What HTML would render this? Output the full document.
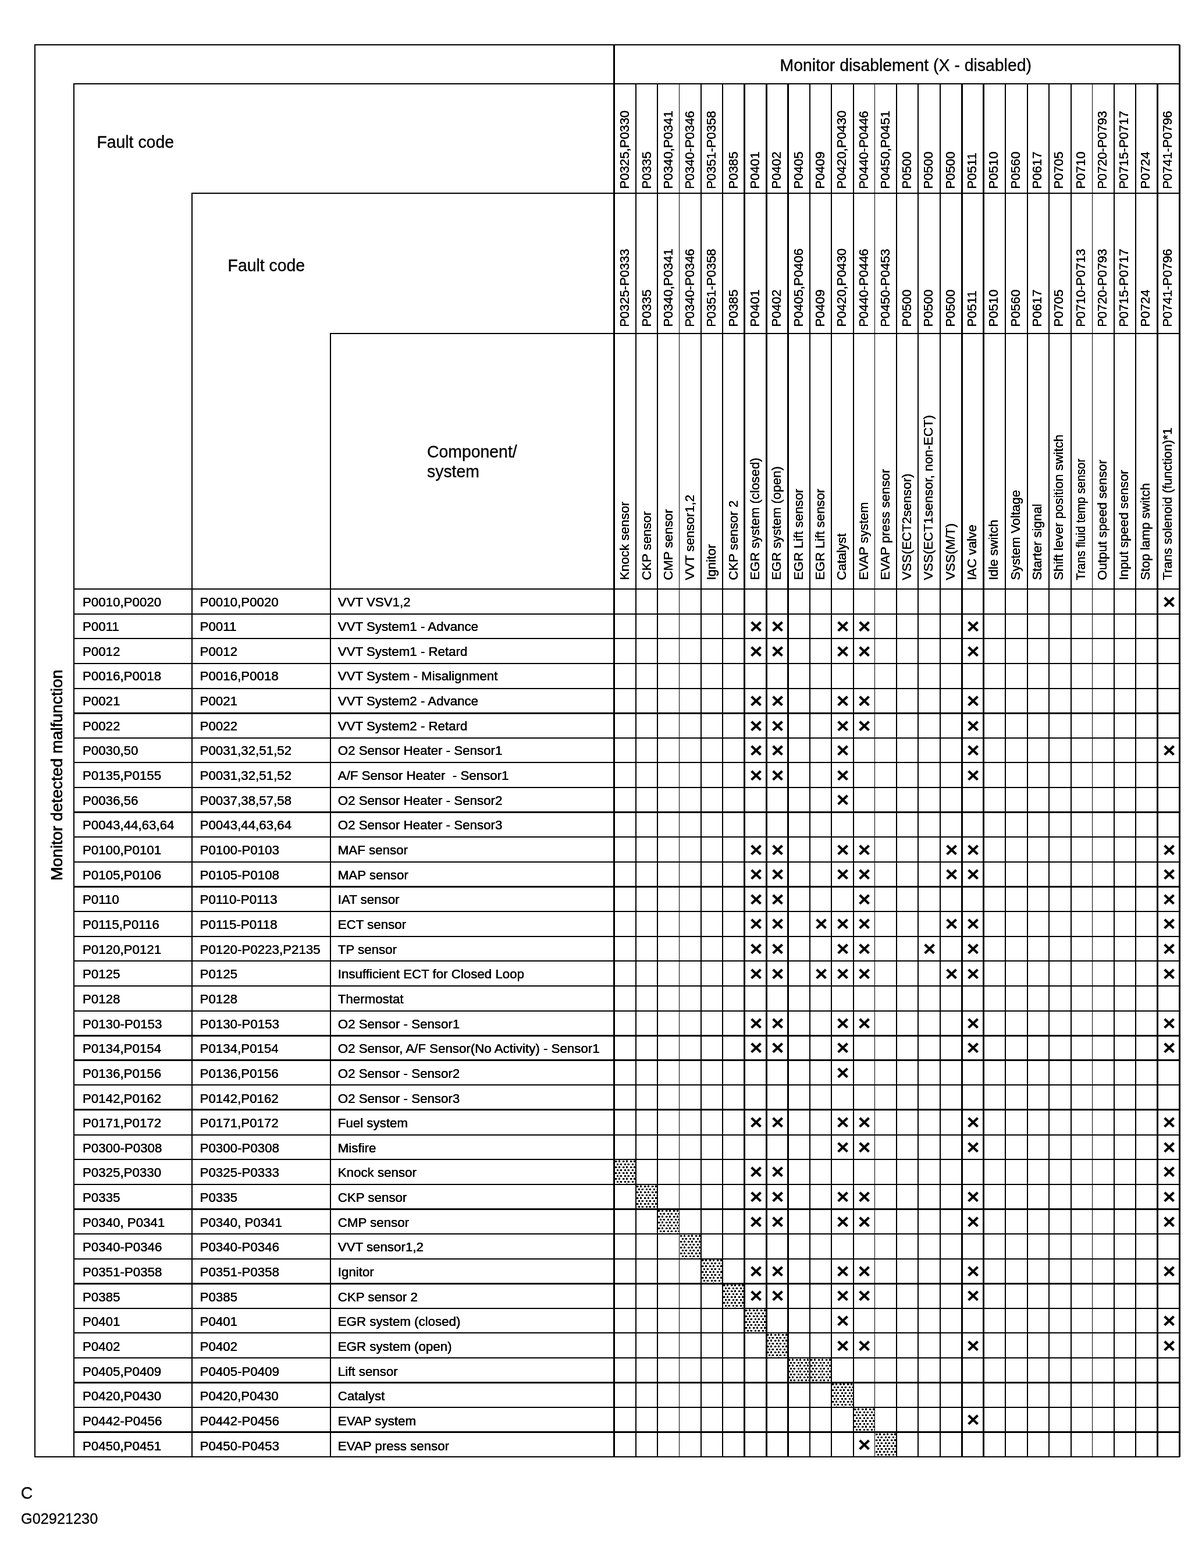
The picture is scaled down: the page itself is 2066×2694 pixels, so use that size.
<!DOCTYPE html>
<html lang="en">
<head>
<meta charset="utf-8">
<title>Monitor disablement</title>
<style>
html,body{margin:0;padding:0;background:#fff}
body{width:2066px;height:2694px;position:relative;overflow:hidden;font-family:"Liberation Sans",Arial,Helvetica,sans-serif;color:#000}
.l{position:absolute;background:#000}
.t{position:absolute;white-space:nowrap;line-height:1;transform-origin:0 84.65%;-webkit-text-stroke:0.3px #000}
.hd{font-size:28.4px;transform:scaleY(1.02);-webkit-text-stroke:0.35px #000}
.vh{font-size:28.22px;transform:rotate(-90deg);-webkit-text-stroke:0.45px #000;text-shadow:0.15px 0 0 #000,-0.15px 0 0 #000}
.cc{font-size:28.4px;transform:scaleY(1.05)}
.gg{font-size:25.3px}
.r{font-size:22.3px;-webkit-text-stroke:0;text-shadow:0.18px 0 0 #000,-0.18px 0 0 #000;transform:scaleY(1.015)}
.vc{font-size:22.3px;-webkit-text-stroke:0;transform:rotate(-90deg) scaleY(1.03);text-shadow:0 0.2px 0 #000,0 -0.2px 0 #000}
.x{text-shadow:none;font-size:36px;font-weight:bold;width:37.37px;height:42.6px;line-height:42.6px;text-align:center;transform-origin:50% 50%;transform:scale(1.03,0.96);-webkit-text-stroke:0.2px #000}
.hx{position:absolute;display:block}
</style>
</head>
<body>
<svg width="0" height="0" style="position:absolute;left:0;top:0" aria-hidden="true"><defs><pattern id="hatch" patternUnits="userSpaceOnUse" x="0" y="0" width="13" height="10"><rect width="13" height="10" fill="#fff"/><path fill="#000" d="M1 2h3v1h1v1h-1v1h-3zM8 1h1v1h1v3h-3v-3h1zM4 7h3v3h-2v1h-1zM10 7h3v3h-3v-1h-1v-1h1z"/></pattern></defs></svg>
<svg class="hx" style="left:1056px;top:1992px" width="37" height="43" viewBox="0 0 37 43" shape-rendering="crispEdges"><rect width="37" height="43" fill="url(#hatch)"/></svg>
<svg class="hx" style="left:1093px;top:2035px" width="37" height="42" viewBox="0 0 37 42" shape-rendering="crispEdges"><rect width="37" height="42" fill="url(#hatch)"/></svg>
<svg class="hx" style="left:1130px;top:2077px" width="38" height="43" viewBox="0 0 38 43" shape-rendering="crispEdges"><rect width="38" height="43" fill="url(#hatch)"/></svg>
<svg class="hx" style="left:1168px;top:2120px" width="37" height="42" viewBox="0 0 37 42" shape-rendering="crispEdges"><rect width="37" height="42" fill="url(#hatch)"/></svg>
<svg class="hx" style="left:1205px;top:2162px" width="37" height="43" viewBox="0 0 37 43" shape-rendering="crispEdges"><rect width="37" height="43" fill="url(#hatch)"/></svg>
<svg class="hx" style="left:1242px;top:2205px" width="38" height="43" viewBox="0 0 38 43" shape-rendering="crispEdges"><rect width="38" height="43" fill="url(#hatch)"/></svg>
<svg class="hx" style="left:1280px;top:2248px" width="37" height="42" viewBox="0 0 37 42" shape-rendering="crispEdges"><rect width="37" height="42" fill="url(#hatch)"/></svg>
<svg class="hx" style="left:1317px;top:2290px" width="37" height="43" viewBox="0 0 37 43" shape-rendering="crispEdges"><rect width="37" height="43" fill="url(#hatch)"/></svg>
<svg class="hx" style="left:1354px;top:2333px" width="38" height="42" viewBox="0 0 38 42" shape-rendering="crispEdges"><rect width="38" height="42" fill="url(#hatch)"/></svg>
<svg class="hx" style="left:1392px;top:2333px" width="37" height="42" viewBox="0 0 37 42" shape-rendering="crispEdges"><rect width="37" height="42" fill="url(#hatch)"/></svg>
<svg class="hx" style="left:1429px;top:2375px" width="38" height="43" viewBox="0 0 38 43" shape-rendering="crispEdges"><rect width="38" height="43" fill="url(#hatch)"/></svg>
<svg class="hx" style="left:1467px;top:2418px" width="37" height="43" viewBox="0 0 37 43" shape-rendering="crispEdges"><rect width="37" height="43" fill="url(#hatch)"/></svg>
<svg class="hx" style="left:1504px;top:2461px" width="37" height="42" viewBox="0 0 37 42" shape-rendering="crispEdges"><rect width="37" height="42" fill="url(#hatch)"/></svg>
<div class="l" style="left:59px;top:76px;width:1969px;height:2px"></div>
<div class="l" style="left:59px;top:2502px;width:1969px;height:2.4px"></div>
<div class="l" style="left:59px;top:77px;width:2px;height:2426px"></div>
<div class="l" style="left:2026px;top:77px;width:2.9px;height:2426px"></div>
<div class="l" style="left:126px;top:143px;width:1901px;height:1.8px"></div>
<div class="l" style="left:329px;top:331px;width:1698px;height:1.8px"></div>
<div class="l" style="left:567px;top:572px;width:1460px;height:1.8px"></div>
<div class="l" style="left:126px;top:144px;width:2px;height:2359px"></div>
<div class="l" style="left:329px;top:332px;width:2px;height:2171px"></div>
<div class="l" style="left:567px;top:573px;width:2px;height:1930px"></div>
<div class="l" style="left:1054px;top:77px;width:2.9px;height:2426px"></div>
<div class="l" style="left:1092px;top:144px;width:2px;height:2359px"></div>
<div class="l" style="left:1129px;top:144px;width:1.6px;height:2359px"></div>
<div class="l" style="left:1167px;top:144px;width:1.3px;height:2359px"></div>
<div class="l" style="left:1204px;top:144px;width:2px;height:2359px"></div>
<div class="l" style="left:1241px;top:144px;width:2.4px;height:2359px"></div>
<div class="l" style="left:1278px;top:144px;width:2.9px;height:2359px"></div>
<div class="l" style="left:1316px;top:144px;width:2.9px;height:2359px"></div>
<div class="l" style="left:1353px;top:144px;width:2.9px;height:2359px"></div>
<div class="l" style="left:1391px;top:144px;width:2.4px;height:2359px"></div>
<div class="l" style="left:1428px;top:144px;width:2px;height:2359px"></div>
<div class="l" style="left:1466px;top:144px;width:1.6px;height:2359px"></div>
<div class="l" style="left:1503px;top:144px;width:1.3px;height:2359px"></div>
<div class="l" style="left:1540px;top:144px;width:2px;height:2359px"></div>
<div class="l" style="left:1577px;top:144px;width:2.4px;height:2359px"></div>
<div class="l" style="left:1615px;top:144px;width:2px;height:2359px"></div>
<div class="l" style="left:1652px;top:144px;width:2.9px;height:2359px"></div>
<div class="l" style="left:1689px;top:144px;width:2.9px;height:2359px"></div>
<div class="l" style="left:1727px;top:144px;width:2.4px;height:2359px"></div>
<div class="l" style="left:1765px;top:144px;width:2px;height:2359px"></div>
<div class="l" style="left:1802px;top:144px;width:2px;height:2359px"></div>
<div class="l" style="left:1840px;top:144px;width:1.6px;height:2359px"></div>
<div class="l" style="left:1877px;top:144px;width:1.3px;height:2359px"></div>
<div class="l" style="left:1914px;top:144px;width:2px;height:2359px"></div>
<div class="l" style="left:1951px;top:144px;width:2px;height:2359px"></div>
<div class="l" style="left:1988px;top:144px;width:2.9px;height:2359px"></div>
<div class="l" style="left:127px;top:1011px;width:1900px;height:2px"></div>
<div class="l" style="left:127px;top:1054px;width:1900px;height:1.6px"></div>
<div class="l" style="left:127px;top:1096px;width:1900px;height:2.4px"></div>
<div class="l" style="left:127px;top:1139px;width:1900px;height:2px"></div>
<div class="l" style="left:127px;top:1182px;width:1900px;height:1.6px"></div>
<div class="l" style="left:127px;top:1224px;width:1900px;height:2.9px"></div>
<div class="l" style="left:127px;top:1267px;width:1900px;height:2px"></div>
<div class="l" style="left:127px;top:1309px;width:1900px;height:2px"></div>
<div class="l" style="left:127px;top:1352px;width:1900px;height:1.6px"></div>
<div class="l" style="left:127px;top:1394px;width:1900px;height:2.9px"></div>
<div class="l" style="left:127px;top:1437px;width:1900px;height:1.6px"></div>
<div class="l" style="left:127px;top:1480px;width:1900px;height:2px"></div>
<div class="l" style="left:127px;top:1522px;width:1900px;height:2.9px"></div>
<div class="l" style="left:127px;top:1565px;width:1900px;height:2px"></div>
<div class="l" style="left:127px;top:1608px;width:1900px;height:2px"></div>
<div class="l" style="left:127px;top:1650px;width:1900px;height:2.4px"></div>
<div class="l" style="left:127px;top:1693px;width:1900px;height:2px"></div>
<div class="l" style="left:127px;top:1736px;width:1900px;height:1.6px"></div>
<div class="l" style="left:127px;top:1778px;width:1900px;height:2.9px"></div>
<div class="l" style="left:127px;top:1820px;width:1900px;height:2.9px"></div>
<div class="l" style="left:127px;top:1863px;width:1900px;height:1.6px"></div>
<div class="l" style="left:127px;top:1905px;width:1900px;height:2.9px"></div>
<div class="l" style="left:127px;top:1949px;width:1900px;height:1.6px"></div>
<div class="l" style="left:127px;top:1991px;width:1900px;height:2px"></div>
<div class="l" style="left:127px;top:2034px;width:1900px;height:2px"></div>
<div class="l" style="left:127px;top:2076px;width:1900px;height:2.9px"></div>
<div class="l" style="left:127px;top:2119px;width:1900px;height:2px"></div>
<div class="l" style="left:127px;top:2162px;width:1900px;height:1.6px"></div>
<div class="l" style="left:127px;top:2204px;width:1900px;height:2.9px"></div>
<div class="l" style="left:127px;top:2247px;width:1900px;height:2px"></div>
<div class="l" style="left:127px;top:2289px;width:1900px;height:2px"></div>
<div class="l" style="left:127px;top:2332px;width:1900px;height:2.4px"></div>
<div class="l" style="left:127px;top:2374px;width:1900px;height:2.9px"></div>
<div class="l" style="left:127px;top:2417px;width:1900px;height:2px"></div>
<div class="l" style="left:127px;top:2459px;width:1900px;height:2.9px"></div>
<div class="t hd" style="left:1340.6px;top:98.06px"><span id="title">Monitor disablement (X - disabled)</span></div>
<div class="t hd" style="left:166.4px;top:229.56px"><span id="fc1">Fault code</span></div>
<div class="t hd" style="left:391.6px;top:441.66px"><span id="fc2">Fault code</span></div>
<div class="t hd" style="left:734px;top:761.66px"><span id="comp1">Component/</span></div>
<div class="t hd" style="left:734px;top:795.96px"><span id="comp2">system</span></div>
<div class="t vh" style="left:106.6px;top:1488.51px"><span id="side">Monitor detected malfunction</span></div>
<div class="t vc" style="left:1082.2px;top:305.62px"><span>P0325,P0330</span></div>
<div class="t vc" style="left:1082.2px;top:543.32px;transform:rotate(-90deg) scale(0.986,1.03)"><span>P0325-P0333</span></div>
<div class="t vc" style="left:1082.2px;top:978.12px"><span>Knock sensor</span></div>
<div class="t vc" style="left:1119.5px;top:305.62px"><span>P0335</span></div>
<div class="t vc" style="left:1119.5px;top:543.32px"><span>P0335</span></div>
<div class="t vc" style="left:1119.5px;top:978.12px"><span>CKP sensor</span></div>
<div class="t vc" style="left:1156.8px;top:305.62px"><span>P0340,P0341</span></div>
<div class="t vc" style="left:1156.8px;top:543.32px"><span>P0340,P0341</span></div>
<div class="t vc" style="left:1156.8px;top:978.12px"><span>CMP sensor</span></div>
<div class="t vc" style="left:1194.1px;top:305.62px;transform:rotate(-90deg) scale(0.986,1.03)"><span>P0340-P0346</span></div>
<div class="t vc" style="left:1194.1px;top:543.32px;transform:rotate(-90deg) scale(0.986,1.03)"><span>P0340-P0346</span></div>
<div class="t vc" style="left:1194.1px;top:978.12px"><span>VVT sensor1,2</span></div>
<div class="t vc" style="left:1231.4px;top:305.62px;transform:rotate(-90deg) scale(0.986,1.03)"><span>P0351-P0358</span></div>
<div class="t vc" style="left:1231.4px;top:543.32px;transform:rotate(-90deg) scale(0.986,1.03)"><span>P0351-P0358</span></div>
<div class="t vc" style="left:1231.4px;top:978.12px"><span>Ignitor</span></div>
<div class="t vc" style="left:1268.7px;top:305.62px"><span>P0385</span></div>
<div class="t vc" style="left:1268.7px;top:543.32px"><span>P0385</span></div>
<div class="t vc" style="left:1268.7px;top:978.12px"><span>CKP sensor 2</span></div>
<div class="t vc" style="left:1306px;top:305.62px"><span>P0401</span></div>
<div class="t vc" style="left:1306px;top:543.32px"><span>P0401</span></div>
<div class="t vc" style="left:1306px;top:978.12px"><span>EGR system (closed)</span></div>
<div class="t vc" style="left:1343.3px;top:305.62px"><span>P0402</span></div>
<div class="t vc" style="left:1343.3px;top:543.32px"><span>P0402</span></div>
<div class="t vc" style="left:1343.3px;top:978.12px"><span>EGR system (open)</span></div>
<div class="t vc" style="left:1380.6px;top:305.62px"><span>P0405</span></div>
<div class="t vc" style="left:1380.6px;top:543.32px"><span>P0405,P0406</span></div>
<div class="t vc" style="left:1380.6px;top:978.12px"><span>EGR Lift sensor</span></div>
<div class="t vc" style="left:1417.9px;top:305.62px"><span>P0409</span></div>
<div class="t vc" style="left:1417.9px;top:543.32px"><span>P0409</span></div>
<div class="t vc" style="left:1417.9px;top:978.12px"><span>EGR Lift sensor</span></div>
<div class="t vc" style="left:1455.2px;top:305.62px"><span>P0420,P0430</span></div>
<div class="t vc" style="left:1455.2px;top:543.32px"><span>P0420,P0430</span></div>
<div class="t vc" style="left:1455.2px;top:978.12px"><span>Catalyst</span></div>
<div class="t vc" style="left:1492.5px;top:305.62px;transform:rotate(-90deg) scale(0.986,1.03)"><span>P0440-P0446</span></div>
<div class="t vc" style="left:1492.5px;top:543.32px;transform:rotate(-90deg) scale(0.986,1.03)"><span>P0440-P0446</span></div>
<div class="t vc" style="left:1492.5px;top:978.12px"><span>EVAP system</span></div>
<div class="t vc" style="left:1529.8px;top:305.62px"><span>P0450,P0451</span></div>
<div class="t vc" style="left:1529.8px;top:543.32px;transform:rotate(-90deg) scale(0.986,1.03)"><span>P0450-P0453</span></div>
<div class="t vc" style="left:1529.8px;top:978.12px"><span>EVAP press sensor</span></div>
<div class="t vc" style="left:1567.1px;top:305.62px"><span>P0500</span></div>
<div class="t vc" style="left:1567.1px;top:543.32px"><span>P0500</span></div>
<div class="t vc" style="left:1567.1px;top:978.12px"><span>VSS(ECT2sensor)</span></div>
<div class="t vc" style="left:1604.4px;top:305.62px"><span>P0500</span></div>
<div class="t vc" style="left:1604.4px;top:543.32px"><span>P0500</span></div>
<div class="t vc" style="left:1604.4px;top:978.12px"><span>VSS(ECT1sensor, non-ECT)</span></div>
<div class="t vc" style="left:1641.7px;top:305.62px"><span>P0500</span></div>
<div class="t vc" style="left:1641.7px;top:543.32px"><span>P0500</span></div>
<div class="t vc" style="left:1641.7px;top:978.12px"><span>VSS(M/T)</span></div>
<div class="t vc" style="left:1679px;top:305.62px"><span>P0511</span></div>
<div class="t vc" style="left:1679px;top:543.32px"><span>P0511</span></div>
<div class="t vc" style="left:1679px;top:978.12px"><span>IAC valve</span></div>
<div class="t vc" style="left:1716.3px;top:305.62px"><span>P0510</span></div>
<div class="t vc" style="left:1716.3px;top:543.32px"><span>P0510</span></div>
<div class="t vc" style="left:1716.3px;top:978.12px"><span>Idle switch</span></div>
<div class="t vc" style="left:1753.6px;top:305.62px"><span>P0560</span></div>
<div class="t vc" style="left:1753.6px;top:543.32px"><span>P0560</span></div>
<div class="t vc" style="left:1753.6px;top:978.12px"><span>System Voltage</span></div>
<div class="t vc" style="left:1790.9px;top:305.62px"><span>P0617</span></div>
<div class="t vc" style="left:1790.9px;top:543.32px"><span>P0617</span></div>
<div class="t vc" style="left:1790.9px;top:978.12px"><span>Starter signal</span></div>
<div class="t vc" style="left:1828.2px;top:305.62px"><span>P0705</span></div>
<div class="t vc" style="left:1828.2px;top:543.32px"><span>P0705</span></div>
<div class="t vc" style="left:1828.2px;top:978.12px"><span>Shift lever position switch</span></div>
<div class="t vc" style="left:1865.5px;top:305.62px"><span>P0710</span></div>
<div class="t vc" style="left:1865.5px;top:543.32px;transform:rotate(-90deg) scale(0.986,1.03)"><span>P0710-P0713</span></div>
<div class="t vc" style="left:1865.5px;top:978.12px;transform:rotate(-90deg) scale(0.9,1.03)"><span>Trans fluid temp sensor</span></div>
<div class="t vc" style="left:1902.8px;top:305.62px;transform:rotate(-90deg) scale(0.986,1.03)"><span>P0720-P0793</span></div>
<div class="t vc" style="left:1902.8px;top:543.32px;transform:rotate(-90deg) scale(0.986,1.03)"><span>P0720-P0793</span></div>
<div class="t vc" style="left:1902.8px;top:978.12px"><span>Output speed sensor</span></div>
<div class="t vc" style="left:1940.1px;top:305.62px;transform:rotate(-90deg) scale(0.986,1.03)"><span>P0715-P0717</span></div>
<div class="t vc" style="left:1940.1px;top:543.32px;transform:rotate(-90deg) scale(0.986,1.03)"><span>P0715-P0717</span></div>
<div class="t vc" style="left:1940.1px;top:978.12px"><span>Input speed sensor</span></div>
<div class="t vc" style="left:1977.4px;top:305.62px"><span>P0724</span></div>
<div class="t vc" style="left:1977.4px;top:543.32px"><span>P0724</span></div>
<div class="t vc" style="left:1977.4px;top:978.12px;transform:rotate(-90deg) scale(0.99,1.03)"><span>Stop lamp switch</span></div>
<div class="t vc" style="left:2014.7px;top:305.62px;transform:rotate(-90deg) scale(0.986,1.03)"><span>P0741-P0796</span></div>
<div class="t vc" style="left:2014.7px;top:543.32px;transform:rotate(-90deg) scale(0.986,1.03)"><span>P0741-P0796</span></div>
<div class="t vc" style="left:2014.7px;top:978.12px;transform:rotate(-90deg) scale(0.9865,1.03)"><span>Trans solenoid (function)*1</span></div>
<div class="t r" style="left:142px;top:1023.52px"><span>P0010,P0020</span></div>
<div class="t r" style="left:343.6px;top:1023.52px"><span>P0010,P0020</span></div>
<div class="t r" style="left:580.8px;top:1023.52px"><span>VVT VSV1,2</span></div>
<div class="t x" style="left:1990.55px;top:1012.6px"><span>×</span></div>
<div class="t r" style="left:142px;top:1066.17px"><span>P0011</span></div>
<div class="t r" style="left:343.6px;top:1066.17px"><span>P0011</span></div>
<div class="t r" style="left:580.8px;top:1066.17px"><span>VVT System1 - Advance</span></div>
<div class="t x" style="left:1280.52px;top:1055.2px"><span>×</span></div>
<div class="t x" style="left:1317.89px;top:1055.2px"><span>×</span></div>
<div class="t x" style="left:1430px;top:1055.2px"><span>×</span></div>
<div class="t x" style="left:1467.37px;top:1055.2px"><span>×</span></div>
<div class="t x" style="left:1654.22px;top:1055.2px"><span>×</span></div>
<div class="t r" style="left:142px;top:1108.82px"><span>P0012</span></div>
<div class="t r" style="left:343.6px;top:1108.82px"><span>P0012</span></div>
<div class="t r" style="left:580.8px;top:1108.82px"><span>VVT System1 - Retard</span></div>
<div class="t x" style="left:1280.52px;top:1097.8px"><span>×</span></div>
<div class="t x" style="left:1317.89px;top:1097.8px"><span>×</span></div>
<div class="t x" style="left:1430px;top:1097.8px"><span>×</span></div>
<div class="t x" style="left:1467.37px;top:1097.8px"><span>×</span></div>
<div class="t x" style="left:1654.22px;top:1097.8px"><span>×</span></div>
<div class="t r" style="left:142px;top:1151.47px"><span>P0016,P0018</span></div>
<div class="t r" style="left:343.6px;top:1151.47px"><span>P0016,P0018</span></div>
<div class="t r" style="left:580.8px;top:1151.47px"><span>VVT System - Misalignment</span></div>
<div class="t r" style="left:142px;top:1194.12px"><span>P0021</span></div>
<div class="t r" style="left:343.6px;top:1194.12px"><span>P0021</span></div>
<div class="t r" style="left:580.8px;top:1194.12px"><span>VVT System2 - Advance</span></div>
<div class="t x" style="left:1280.52px;top:1183px"><span>×</span></div>
<div class="t x" style="left:1317.89px;top:1183px"><span>×</span></div>
<div class="t x" style="left:1430px;top:1183px"><span>×</span></div>
<div class="t x" style="left:1467.37px;top:1183px"><span>×</span></div>
<div class="t x" style="left:1654.22px;top:1183px"><span>×</span></div>
<div class="t r" style="left:142px;top:1236.77px"><span>P0022</span></div>
<div class="t r" style="left:343.6px;top:1236.77px"><span>P0022</span></div>
<div class="t r" style="left:580.8px;top:1236.77px"><span>VVT System2 - Retard</span></div>
<div class="t x" style="left:1280.52px;top:1225.6px"><span>×</span></div>
<div class="t x" style="left:1317.89px;top:1225.6px"><span>×</span></div>
<div class="t x" style="left:1430px;top:1225.6px"><span>×</span></div>
<div class="t x" style="left:1467.37px;top:1225.6px"><span>×</span></div>
<div class="t x" style="left:1654.22px;top:1225.6px"><span>×</span></div>
<div class="t r" style="left:142px;top:1279.42px"><span>P0030,50</span></div>
<div class="t r" style="left:343.6px;top:1279.42px"><span>P0031,32,51,52</span></div>
<div class="t r" style="left:580.8px;top:1279.42px"><span>O2 Sensor Heater - Sensor1</span></div>
<div class="t x" style="left:1280.52px;top:1268.2px"><span>×</span></div>
<div class="t x" style="left:1317.89px;top:1268.2px"><span>×</span></div>
<div class="t x" style="left:1430px;top:1268.2px"><span>×</span></div>
<div class="t x" style="left:1654.22px;top:1268.2px"><span>×</span></div>
<div class="t x" style="left:1990.55px;top:1268.2px"><span>×</span></div>
<div class="t r" style="left:142px;top:1322.07px"><span>P0135,P0155</span></div>
<div class="t r" style="left:343.6px;top:1322.07px"><span>P0031,32,51,52</span></div>
<div class="t r" style="left:580.8px;top:1322.07px"><span>A/F Sensor Heater&nbsp; - Sensor1</span></div>
<div class="t x" style="left:1280.52px;top:1310.8px"><span>×</span></div>
<div class="t x" style="left:1317.89px;top:1310.8px"><span>×</span></div>
<div class="t x" style="left:1430px;top:1310.8px"><span>×</span></div>
<div class="t x" style="left:1654.22px;top:1310.8px"><span>×</span></div>
<div class="t r" style="left:142px;top:1364.72px"><span>P0036,56</span></div>
<div class="t r" style="left:343.6px;top:1364.72px"><span>P0037,38,57,58</span></div>
<div class="t r" style="left:580.8px;top:1364.72px"><span>O2 Sensor Heater - Sensor2</span></div>
<div class="t x" style="left:1430px;top:1353.4px"><span>×</span></div>
<div class="t r" style="left:142px;top:1407.37px"><span>P0043,44,63,64</span></div>
<div class="t r" style="left:343.6px;top:1407.37px"><span>P0043,44,63,64</span></div>
<div class="t r" style="left:580.8px;top:1407.37px"><span>O2 Sensor Heater - Sensor3</span></div>
<div class="t r" style="left:142px;top:1450.02px"><span>P0100,P0101</span></div>
<div class="t r" style="left:343.6px;top:1450.02px"><span>P0100-P0103</span></div>
<div class="t r" style="left:580.8px;top:1450.02px"><span>MAF sensor</span></div>
<div class="t x" style="left:1280.52px;top:1438.6px"><span>×</span></div>
<div class="t x" style="left:1317.89px;top:1438.6px"><span>×</span></div>
<div class="t x" style="left:1430px;top:1438.6px"><span>×</span></div>
<div class="t x" style="left:1467.37px;top:1438.6px"><span>×</span></div>
<div class="t x" style="left:1616.85px;top:1438.6px"><span>×</span></div>
<div class="t x" style="left:1654.22px;top:1438.6px"><span>×</span></div>
<div class="t x" style="left:1990.55px;top:1438.6px"><span>×</span></div>
<div class="t r" style="left:142px;top:1492.67px"><span>P0105,P0106</span></div>
<div class="t r" style="left:343.6px;top:1492.67px"><span>P0105-P0108</span></div>
<div class="t r" style="left:580.8px;top:1492.67px"><span>MAP sensor</span></div>
<div class="t x" style="left:1280.52px;top:1481.2px"><span>×</span></div>
<div class="t x" style="left:1317.89px;top:1481.2px"><span>×</span></div>
<div class="t x" style="left:1430px;top:1481.2px"><span>×</span></div>
<div class="t x" style="left:1467.37px;top:1481.2px"><span>×</span></div>
<div class="t x" style="left:1616.85px;top:1481.2px"><span>×</span></div>
<div class="t x" style="left:1654.22px;top:1481.2px"><span>×</span></div>
<div class="t x" style="left:1990.55px;top:1481.2px"><span>×</span></div>
<div class="t r" style="left:142px;top:1535.32px"><span>P0110</span></div>
<div class="t r" style="left:343.6px;top:1535.32px"><span>P0110-P0113</span></div>
<div class="t r" style="left:580.8px;top:1535.32px"><span>IAT sensor</span></div>
<div class="t x" style="left:1280.52px;top:1523.8px"><span>×</span></div>
<div class="t x" style="left:1317.89px;top:1523.8px"><span>×</span></div>
<div class="t x" style="left:1467.37px;top:1523.8px"><span>×</span></div>
<div class="t x" style="left:1990.55px;top:1523.8px"><span>×</span></div>
<div class="t r" style="left:142px;top:1577.97px"><span>P0115,P0116</span></div>
<div class="t r" style="left:343.6px;top:1577.97px"><span>P0115-P0118</span></div>
<div class="t r" style="left:580.8px;top:1577.97px"><span>ECT sensor</span></div>
<div class="t x" style="left:1280.52px;top:1566.4px"><span>×</span></div>
<div class="t x" style="left:1317.89px;top:1566.4px"><span>×</span></div>
<div class="t x" style="left:1392.63px;top:1566.4px"><span>×</span></div>
<div class="t x" style="left:1430px;top:1566.4px"><span>×</span></div>
<div class="t x" style="left:1467.37px;top:1566.4px"><span>×</span></div>
<div class="t x" style="left:1616.85px;top:1566.4px"><span>×</span></div>
<div class="t x" style="left:1654.22px;top:1566.4px"><span>×</span></div>
<div class="t x" style="left:1990.55px;top:1566.4px"><span>×</span></div>
<div class="t r" style="left:142px;top:1620.62px"><span>P0120,P0121</span></div>
<div class="t r" style="left:343.6px;top:1620.62px"><span>P0120-P0223,P2135</span></div>
<div class="t r" style="left:580.8px;top:1620.62px"><span>TP sensor</span></div>
<div class="t x" style="left:1280.52px;top:1609px"><span>×</span></div>
<div class="t x" style="left:1317.89px;top:1609px"><span>×</span></div>
<div class="t x" style="left:1430px;top:1609px"><span>×</span></div>
<div class="t x" style="left:1467.37px;top:1609px"><span>×</span></div>
<div class="t x" style="left:1579.48px;top:1609px"><span>×</span></div>
<div class="t x" style="left:1654.22px;top:1609px"><span>×</span></div>
<div class="t x" style="left:1990.55px;top:1609px"><span>×</span></div>
<div class="t r" style="left:142px;top:1663.27px"><span>P0125</span></div>
<div class="t r" style="left:343.6px;top:1663.27px"><span>P0125</span></div>
<div class="t r" style="left:580.8px;top:1663.27px"><span>Insufficient ECT for Closed Loop</span></div>
<div class="t x" style="left:1280.52px;top:1651.6px"><span>×</span></div>
<div class="t x" style="left:1317.89px;top:1651.6px"><span>×</span></div>
<div class="t x" style="left:1392.63px;top:1651.6px"><span>×</span></div>
<div class="t x" style="left:1430px;top:1651.6px"><span>×</span></div>
<div class="t x" style="left:1467.37px;top:1651.6px"><span>×</span></div>
<div class="t x" style="left:1616.85px;top:1651.6px"><span>×</span></div>
<div class="t x" style="left:1654.22px;top:1651.6px"><span>×</span></div>
<div class="t x" style="left:1990.55px;top:1651.6px"><span>×</span></div>
<div class="t r" style="left:142px;top:1705.92px"><span>P0128</span></div>
<div class="t r" style="left:343.6px;top:1705.92px"><span>P0128</span></div>
<div class="t r" style="left:580.8px;top:1705.92px"><span>Thermostat</span></div>
<div class="t r" style="left:142px;top:1748.57px"><span>P0130-P0153</span></div>
<div class="t r" style="left:343.6px;top:1748.57px"><span>P0130-P0153</span></div>
<div class="t r" style="left:580.8px;top:1748.57px"><span>O2 Sensor - Sensor1</span></div>
<div class="t x" style="left:1280.52px;top:1736.8px"><span>×</span></div>
<div class="t x" style="left:1317.89px;top:1736.8px"><span>×</span></div>
<div class="t x" style="left:1430px;top:1736.8px"><span>×</span></div>
<div class="t x" style="left:1467.37px;top:1736.8px"><span>×</span></div>
<div class="t x" style="left:1654.22px;top:1736.8px"><span>×</span></div>
<div class="t x" style="left:1990.55px;top:1736.8px"><span>×</span></div>
<div class="t r" style="left:142px;top:1791.22px"><span>P0134,P0154</span></div>
<div class="t r" style="left:343.6px;top:1791.22px"><span>P0134,P0154</span></div>
<div class="t r" style="left:580.8px;top:1791.22px"><span>O2 Sensor, A/F Sensor(No Activity) - Sensor1</span></div>
<div class="t x" style="left:1280.52px;top:1779.4px"><span>×</span></div>
<div class="t x" style="left:1317.89px;top:1779.4px"><span>×</span></div>
<div class="t x" style="left:1430px;top:1779.4px"><span>×</span></div>
<div class="t x" style="left:1654.22px;top:1779.4px"><span>×</span></div>
<div class="t x" style="left:1990.55px;top:1779.4px"><span>×</span></div>
<div class="t r" style="left:142px;top:1833.87px"><span>P0136,P0156</span></div>
<div class="t r" style="left:343.6px;top:1833.87px"><span>P0136,P0156</span></div>
<div class="t r" style="left:580.8px;top:1833.87px"><span>O2 Sensor - Sensor2</span></div>
<div class="t x" style="left:1430px;top:1822px"><span>×</span></div>
<div class="t r" style="left:142px;top:1876.52px"><span>P0142,P0162</span></div>
<div class="t r" style="left:343.6px;top:1876.52px"><span>P0142,P0162</span></div>
<div class="t r" style="left:580.8px;top:1876.52px"><span>O2 Sensor - Sensor3</span></div>
<div class="t r" style="left:142px;top:1919.17px"><span>P0171,P0172</span></div>
<div class="t r" style="left:343.6px;top:1919.17px"><span>P0171,P0172</span></div>
<div class="t r" style="left:580.8px;top:1919.17px"><span>Fuel system</span></div>
<div class="t x" style="left:1280.52px;top:1907.2px"><span>×</span></div>
<div class="t x" style="left:1317.89px;top:1907.2px"><span>×</span></div>
<div class="t x" style="left:1430px;top:1907.2px"><span>×</span></div>
<div class="t x" style="left:1467.37px;top:1907.2px"><span>×</span></div>
<div class="t x" style="left:1654.22px;top:1907.2px"><span>×</span></div>
<div class="t x" style="left:1990.55px;top:1907.2px"><span>×</span></div>
<div class="t r" style="left:142px;top:1961.82px"><span>P0300-P0308</span></div>
<div class="t r" style="left:343.6px;top:1961.82px"><span>P0300-P0308</span></div>
<div class="t r" style="left:580.8px;top:1961.82px"><span>Misfire</span></div>
<div class="t x" style="left:1430px;top:1949.8px"><span>×</span></div>
<div class="t x" style="left:1467.37px;top:1949.8px"><span>×</span></div>
<div class="t x" style="left:1654.22px;top:1949.8px"><span>×</span></div>
<div class="t x" style="left:1990.55px;top:1949.8px"><span>×</span></div>
<div class="t r" style="left:142px;top:2004.47px"><span>P0325,P0330</span></div>
<div class="t r" style="left:343.6px;top:2004.47px"><span>P0325-P0333</span></div>
<div class="t r" style="left:580.8px;top:2004.47px"><span>Knock sensor</span></div>
<div class="t x" style="left:1280.52px;top:1992.4px"><span>×</span></div>
<div class="t x" style="left:1317.89px;top:1992.4px"><span>×</span></div>
<div class="t x" style="left:1990.55px;top:1992.4px"><span>×</span></div>
<div class="t r" style="left:142px;top:2047.12px"><span>P0335</span></div>
<div class="t r" style="left:343.6px;top:2047.12px"><span>P0335</span></div>
<div class="t r" style="left:580.8px;top:2047.12px"><span>CKP sensor</span></div>
<div class="t x" style="left:1280.52px;top:2035px"><span>×</span></div>
<div class="t x" style="left:1317.89px;top:2035px"><span>×</span></div>
<div class="t x" style="left:1430px;top:2035px"><span>×</span></div>
<div class="t x" style="left:1467.37px;top:2035px"><span>×</span></div>
<div class="t x" style="left:1654.22px;top:2035px"><span>×</span></div>
<div class="t x" style="left:1990.55px;top:2035px"><span>×</span></div>
<div class="t r" style="left:142px;top:2089.77px"><span>P0340, P0341</span></div>
<div class="t r" style="left:343.6px;top:2089.77px"><span>P0340, P0341</span></div>
<div class="t r" style="left:580.8px;top:2089.77px"><span>CMP sensor</span></div>
<div class="t x" style="left:1280.52px;top:2077.6px"><span>×</span></div>
<div class="t x" style="left:1317.89px;top:2077.6px"><span>×</span></div>
<div class="t x" style="left:1430px;top:2077.6px"><span>×</span></div>
<div class="t x" style="left:1467.37px;top:2077.6px"><span>×</span></div>
<div class="t x" style="left:1654.22px;top:2077.6px"><span>×</span></div>
<div class="t x" style="left:1990.55px;top:2077.6px"><span>×</span></div>
<div class="t r" style="left:142px;top:2132.42px"><span>P0340-P0346</span></div>
<div class="t r" style="left:343.6px;top:2132.42px"><span>P0340-P0346</span></div>
<div class="t r" style="left:580.8px;top:2132.42px"><span>VVT sensor1,2</span></div>
<div class="t r" style="left:142px;top:2175.07px"><span>P0351-P0358</span></div>
<div class="t r" style="left:343.6px;top:2175.07px"><span>P0351-P0358</span></div>
<div class="t r" style="left:580.8px;top:2175.07px"><span>Ignitor</span></div>
<div class="t x" style="left:1280.52px;top:2162.8px"><span>×</span></div>
<div class="t x" style="left:1317.89px;top:2162.8px"><span>×</span></div>
<div class="t x" style="left:1430px;top:2162.8px"><span>×</span></div>
<div class="t x" style="left:1467.37px;top:2162.8px"><span>×</span></div>
<div class="t x" style="left:1654.22px;top:2162.8px"><span>×</span></div>
<div class="t x" style="left:1990.55px;top:2162.8px"><span>×</span></div>
<div class="t r" style="left:142px;top:2217.72px"><span>P0385</span></div>
<div class="t r" style="left:343.6px;top:2217.72px"><span>P0385</span></div>
<div class="t r" style="left:580.8px;top:2217.72px"><span>CKP sensor 2</span></div>
<div class="t x" style="left:1280.52px;top:2205.4px"><span>×</span></div>
<div class="t x" style="left:1317.89px;top:2205.4px"><span>×</span></div>
<div class="t x" style="left:1430px;top:2205.4px"><span>×</span></div>
<div class="t x" style="left:1467.37px;top:2205.4px"><span>×</span></div>
<div class="t x" style="left:1654.22px;top:2205.4px"><span>×</span></div>
<div class="t r" style="left:142px;top:2260.37px"><span>P0401</span></div>
<div class="t r" style="left:343.6px;top:2260.37px"><span>P0401</span></div>
<div class="t r" style="left:580.8px;top:2260.37px"><span>EGR system (closed)</span></div>
<div class="t x" style="left:1430px;top:2248px"><span>×</span></div>
<div class="t x" style="left:1990.55px;top:2248px"><span>×</span></div>
<div class="t r" style="left:142px;top:2303.02px"><span>P0402</span></div>
<div class="t r" style="left:343.6px;top:2303.02px"><span>P0402</span></div>
<div class="t r" style="left:580.8px;top:2303.02px"><span>EGR system (open)</span></div>
<div class="t x" style="left:1430px;top:2290.6px"><span>×</span></div>
<div class="t x" style="left:1467.37px;top:2290.6px"><span>×</span></div>
<div class="t x" style="left:1654.22px;top:2290.6px"><span>×</span></div>
<div class="t x" style="left:1990.55px;top:2290.6px"><span>×</span></div>
<div class="t r" style="left:142px;top:2345.67px"><span>P0405,P0409</span></div>
<div class="t r" style="left:343.6px;top:2345.67px"><span>P0405-P0409</span></div>
<div class="t r" style="left:580.8px;top:2345.67px"><span>Lift sensor</span></div>
<div class="t r" style="left:142px;top:2388.32px"><span>P0420,P0430</span></div>
<div class="t r" style="left:343.6px;top:2388.32px"><span>P0420,P0430</span></div>
<div class="t r" style="left:580.8px;top:2388.32px"><span>Catalyst</span></div>
<div class="t r" style="left:142px;top:2430.97px"><span>P0442-P0456</span></div>
<div class="t r" style="left:343.6px;top:2430.97px"><span>P0442-P0456</span></div>
<div class="t r" style="left:580.8px;top:2430.97px"><span>EVAP system</span></div>
<div class="t x" style="left:1654.22px;top:2418.4px"><span>×</span></div>
<div class="t r" style="left:142px;top:2473.62px"><span>P0450,P0451</span></div>
<div class="t r" style="left:343.6px;top:2473.62px"><span>P0450-P0453</span></div>
<div class="t r" style="left:580.8px;top:2473.62px"><span>EVAP press sensor</span></div>
<div class="t x" style="left:1467.37px;top:2461px"><span>×</span></div>
<div class="t cc" style="left:35.8px;top:2551.16px"><span id="cc">C</span></div>
<div class="t gg" style="left:36px;top:2596.98px"><span id="gg">G02921230</span></div>
</body>
</html>
